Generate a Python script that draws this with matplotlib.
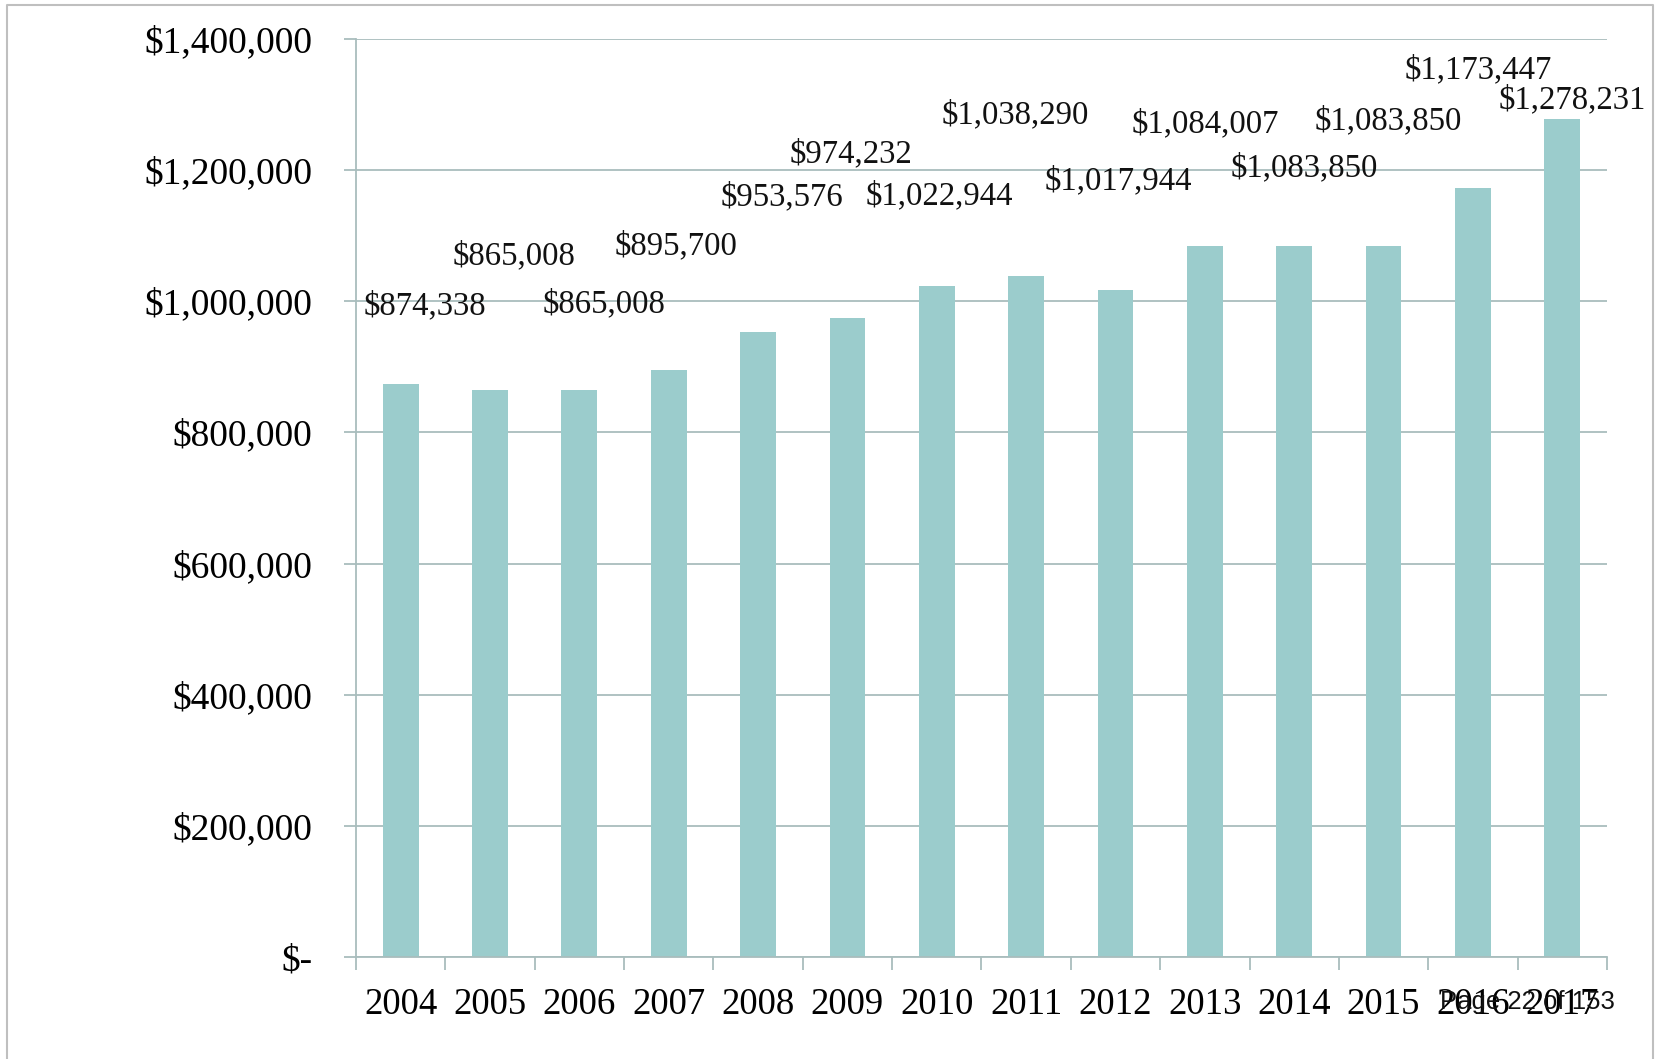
import numpy as np
import matplotlib.pyplot as plt
from matplotlib.ticker import FuncFormatter, MultipleLocator
from matplotlib.lines import Line2D

# yearly totals
years = ['2004', '2005', '2006', '2007', '2008', '2009', '2010',
         '2011', '2012', '2013', '2014', '2015', '2016', '2017']
totals = [874338, 865008, 865008, 895700, 953576, 974232, 1022944,
          1038290, 1017944, 1084007, 1083850, 1083850, 1173447, 1278231]

# where each value label sits (x shift in categories, y in dollars)
label_dx = [0.27, 0.27, 0.28, 0.08, 0.27, 0.04, 0.03,
            -0.12, 0.03, 0.01, 0.11, 0.05, 0.06, 0.11]
label_y = [992000, 1069500, 995400, 1084000, 1159400, 1225000, 1159800,
           1283700, 1182600, 1270000, 1202600, 1274400, 1353100, 1307400]

bar_color = '#9BCCCC'
grid_color = '#A9BDBD'
serif = ['Liberation Serif', 'DejaVu Serif']

fig = plt.figure(figsize=(16.58, 10.59), dpi=100)
ax = fig.add_axes([0.2147, 0.0963, 0.9692 - 0.2147, 0.9632 - 0.0963])

x = np.arange(len(years))
ax.bar(x, totals, width=0.4, color=bar_color, zorder=3)

for i, v in enumerate(totals):
    ax.text(i + label_dx[i], label_y[i], f'${v:,}', ha='center', va='center',
            fontsize=23.6, family=serif, color='#111111', zorder=4)

ax.set_xlim(-0.5, len(years) - 0.5)
ax.set_ylim(0, 1400000)

ax.yaxis.set_major_locator(MultipleLocator(200000))
ax.yaxis.set_major_formatter(FuncFormatter(lambda v, p: '$-' if v == 0 else f'${v:,.0f}'))
ax.grid(axis='y', color=grid_color, linewidth=1.3, zorder=0)

ax.set_xticks(x)
ax.set_xticklabels(years)
ax.set_xticks(np.arange(len(years) + 1) - 0.5, minor=True)
ax.tick_params(axis='x', which='major', length=0, pad=22)
ax.tick_params(axis='x', which='minor', length=9.4, width=1.3, color=grid_color)
ax.tick_params(axis='y', length=8.6, width=1.3, color=grid_color, pad=23)

for lab in ax.get_xticklabels():
    lab.set_family(serif)
    lab.set_fontsize(26.5)
for lab in ax.get_yticklabels():
    lab.set_family(serif)
    lab.set_fontsize(27)

for side in ['top', 'right']:
    ax.spines[side].set_visible(False)
for side in ['left', 'bottom']:
    ax.spines[side].set_color(grid_color)
    ax.spines[side].set_linewidth(1.3)
    ax.spines[side].set_zorder(5)

# page footer printed over the last tick labels
fig.text(1615 / 1658, 1 - 1002 / 1059, 'Page 22 of 153', ha='right', va='center',
         fontsize=18.5, family=['Liberation Sans', 'DejaVu Sans'], color='#111111')

# open frame around the chart (no bottom edge)
W, H = 1658, 1059
frame_x = [7 / W, 7 / W, 1653 / W, 1653 / W]
frame_y = [0, 1 - 5 / H, 1 - 5 / H, 0]
fig.add_artist(Line2D(frame_x, frame_y, transform=fig.transFigure,
                      color='#BFBFBF', linewidth=1.5))

fig.savefig('out.png', dpi=100)
